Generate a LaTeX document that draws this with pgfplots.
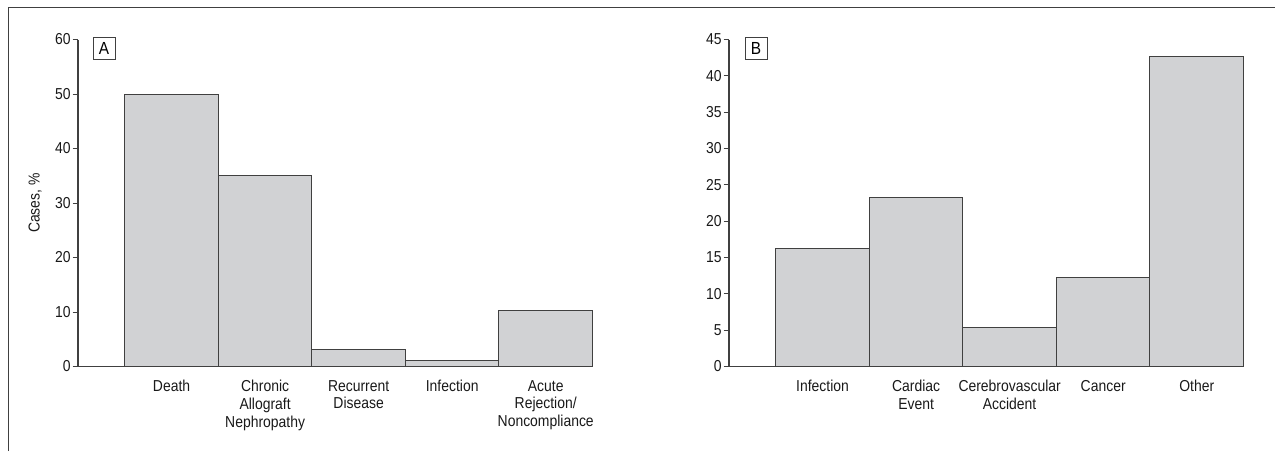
\documentclass[border=0pt]{standalone}
\usepackage{pgfplots}
\pgfplotsset{compat=1.18}
\usepackage{fontspec}
\setmainfont{Liberation Sans}[FakeStretch=0.88]
\definecolor{barfill}{HTML}{D1D2D4}
\definecolor{edge}{HTML}{404040}
\newcommand\lblfont{\fontsize{9.5}{10.6}\selectfont}

\pgfplotsset{panel/.style={
  scale only axis, width=308.7pt, height=196.2pt,
  anchor=south west,
  axis x line=bottom, axis y line=left,
  axis line style={-, draw=edge, line width=0.7pt},
  xmin=0, xmax=5.5, ymin=0,
  xtick={1,...,5}, x tick style={draw=none},
  tick align=outside, y tick style={draw=edge, line width=0.6pt},
  major tick length=3.2pt,
  ticklabel style={font=\lblfont, text=black!90},
  yticklabel style={inner sep=1pt},
  xticklabel style={align=center, yshift=-1.5pt},
  /pgf/number format/assume math mode=true,
  ybar, bar width=1,
  clip=false,
},
bars/.style={fill=barfill, draw=edge, line width=0.6pt}}

\begin{document}
\begin{tikzpicture}
\useasboundingbox (0,0) rectangle (765pt,270.6pt);
\draw[edge, line width=0.9pt] (5pt,0) -- (5pt,266.2pt) -- (766pt,266.2pt);

% panel A
\begin{axis}[panel, at={(46.8pt,50.7pt)}, ymax=60, ytick={0,10,...,60},
  xticklabels={Death, {Chronic\\Allograft\\Nephropathy}, {Recurrent\\Disease}, Infection, {Acute\\Rejection/\\Noncompliance}},
  ylabel={Cases, \%}, ylabel style={font=\lblfont, text=black!90, at={(axis description cs:-0.0836,0.5)}, anchor=center}]
\addplot[bars] coordinates {(1,50) (2,35) (3,3.1) (4,1.1) (5,10.2)};
\end{axis}

% panel B
\begin{axis}[panel, at={(437.4pt,50.7pt)}, ymax=45, ytick={0,5,...,45},
  xticklabels={Infection, {Cardiac\\Event}, {Cerebrovascular\\Accident}, Cancer, Other}]
\addplot[bars] coordinates {(1,16.2) (2,23.3) (3,5.3) (4,12.3) (5,42.7)};
\end{axis}

\node[draw=edge, line width=0.6pt, minimum size=13.2pt, inner sep=0pt, font=\fontsize{10.5}{10.5}\selectfont] at (62.4pt,241.5pt) {A};
\node[draw=edge, line width=0.6pt, minimum size=13.2pt, inner sep=0pt, font=\fontsize{10.5}{10.5}\selectfont] at (453.6pt,241.5pt) {B};
\end{tikzpicture}
\end{document}
